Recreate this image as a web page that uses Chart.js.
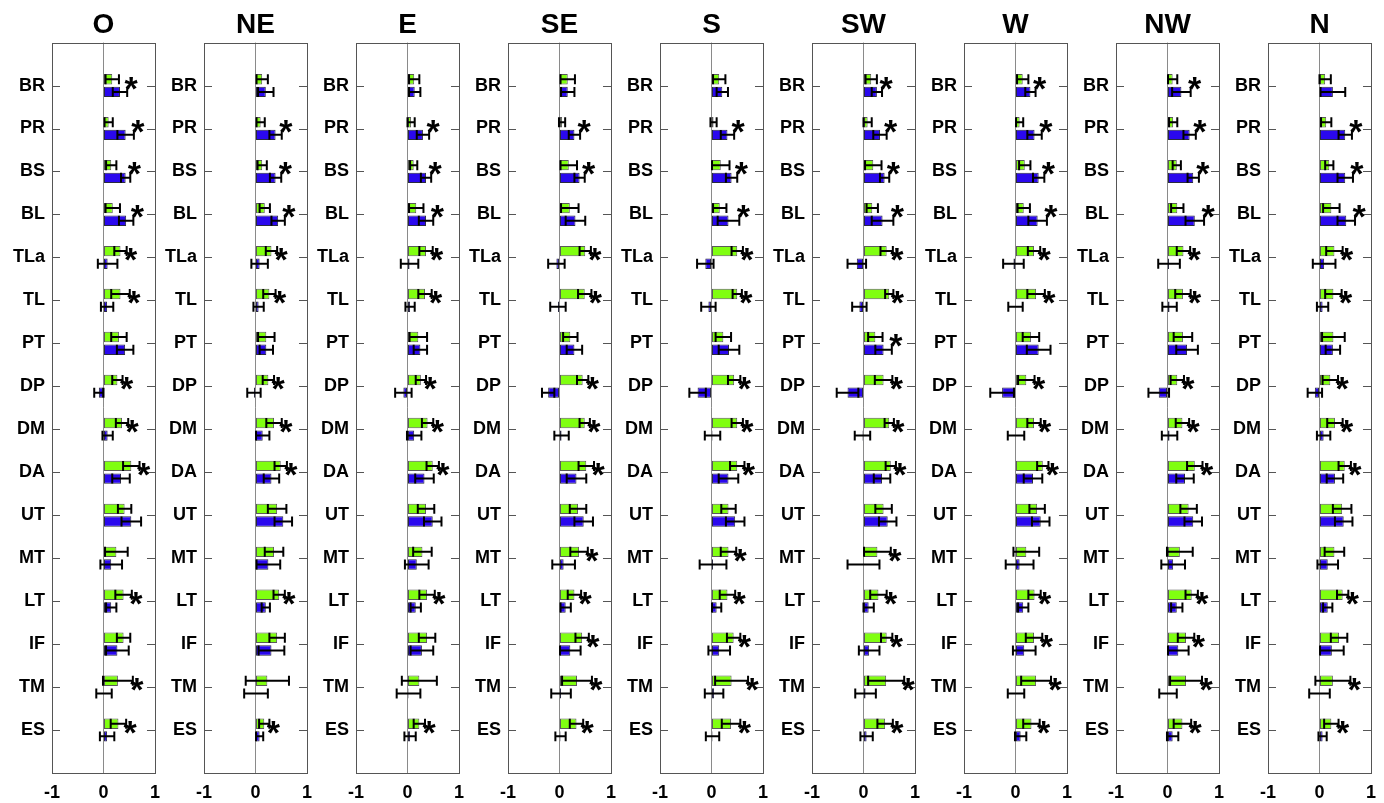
<!DOCTYPE html>
<html>
<head>
  <title>Panels</title>
  <script src="https://cdn.jsdelivr.net/npm/chart.js"></script>
  <style>
    body { margin: 0; background: #fff; }
    #wrap { position: relative; width: 1384px; height: 803px; overflow: hidden; }
    #wrap canvas { position: absolute; top: 0; }
  </style>
</head>
<body>
  <div id="wrap"></div>
  <script>
    const panels = ['O', 'NE', 'E', 'SE', 'S', 'SW', 'W', 'NW', 'N'];
    const categories = ['BR', 'PR', 'BS', 'BL', 'TLa', 'TL', 'PT', 'DP', 'DM', 'DA', 'UT', 'MT', 'LT', 'IF', 'TM', 'ES'];
    const xTicks = [-1, 0, 1];

    // green bars (upper bar of each pair), one row per panel
    const greenMean = [
      [0.17, 0.10, 0.15, 0.18, 0.33, 0.33, 0.30, 0.27, 0.36, 0.54, 0.41, 0.25, 0.39, 0.39, 0.28, 0.29],
      [0.13, 0.10, 0.13, 0.18, 0.31, 0.27, 0.21, 0.25, 0.36, 0.49, 0.42, 0.36, 0.46, 0.42, 0.23, 0.17],
      [0.13, 0.07, 0.12, 0.17, 0.36, 0.34, 0.21, 0.26, 0.39, 0.49, 0.36, 0.29, 0.38, 0.38, 0.23, 0.23],
      [0.16, 0.05, 0.18, 0.20, 0.50, 0.49, 0.21, 0.45, 0.49, 0.52, 0.36, 0.38, 0.29, 0.44, 0.34, 0.33],
      [0.15, 0.04, 0.18, 0.16, 0.50, 0.50, 0.23, 0.44, 0.50, 0.50, 0.33, 0.33, 0.31, 0.43, 0.39, 0.38],
      [0.15, 0.08, 0.19, 0.17, 0.45, 0.50, 0.23, 0.39, 0.50, 0.53, 0.39, 0.27, 0.29, 0.45, 0.44, 0.42],
      [0.14, 0.08, 0.18, 0.16, 0.36, 0.40, 0.30, 0.21, 0.36, 0.53, 0.42, 0.21, 0.37, 0.36, 0.40, 0.31],
      [0.10, 0.11, 0.18, 0.19, 0.31, 0.30, 0.30, 0.19, 0.29, 0.53, 0.41, 0.24, 0.47, 0.36, 0.36, 0.29],
      [0.11, 0.13, 0.19, 0.23, 0.29, 0.27, 0.27, 0.21, 0.30, 0.49, 0.44, 0.29, 0.45, 0.38, 0.26, 0.23]
    ];
    const greenErr = [
      [0.13, 0.08, 0.10, 0.14, 0.12, 0.18, 0.15, 0.10, 0.12, 0.16, 0.13, 0.22, 0.16, 0.13, 0.29, 0.15],
      [0.11, 0.08, 0.09, 0.10, 0.11, 0.12, 0.16, 0.11, 0.15, 0.12, 0.18, 0.18, 0.11, 0.15, 0.42, 0.10],
      [0.10, 0.07, 0.07, 0.14, 0.13, 0.13, 0.17, 0.10, 0.11, 0.12, 0.16, 0.18, 0.15, 0.16, 0.34, 0.11],
      [0.14, 0.06, 0.16, 0.17, 0.11, 0.13, 0.14, 0.11, 0.10, 0.15, 0.16, 0.17, 0.13, 0.13, 0.29, 0.13],
      [0.12, 0.06, 0.17, 0.13, 0.11, 0.09, 0.15, 0.12, 0.11, 0.14, 0.14, 0.15, 0.15, 0.13, 0.32, 0.18],
      [0.11, 0.08, 0.16, 0.11, 0.12, 0.08, 0.14, 0.17, 0.09, 0.10, 0.16, 0.26, 0.16, 0.11, 0.35, 0.15],
      [0.11, 0.07, 0.11, 0.12, 0.12, 0.17, 0.16, 0.16, 0.13, 0.11, 0.15, 0.25, 0.12, 0.16, 0.29, 0.16],
      [0.09, 0.08, 0.08, 0.12, 0.13, 0.15, 0.18, 0.13, 0.13, 0.15, 0.16, 0.25, 0.12, 0.16, 0.31, 0.17],
      [0.11, 0.10, 0.08, 0.16, 0.16, 0.16, 0.22, 0.15, 0.15, 0.12, 0.18, 0.19, 0.11, 0.16, 0.34, 0.14]
    ];
    // blue bars (lower bar of each pair)
    const blueMean = [
      [0.32, 0.43, 0.43, 0.44, 0.08, 0.07, 0.42, -0.09, 0.08, 0.34, 0.54, 0.15, 0.15, 0.27, 0.01, 0.07],
      [0.20, 0.39, 0.39, 0.44, 0.08, 0.06, 0.21, -0.03, 0.14, 0.31, 0.54, 0.25, 0.20, 0.31, 0.01, 0.08],
      [0.14, 0.30, 0.36, 0.36, 0.04, 0.05, 0.25, -0.08, 0.13, 0.33, 0.49, 0.18, 0.16, 0.28, 0.02, 0.05],
      [0.16, 0.29, 0.39, 0.31, -0.06, -0.03, 0.29, -0.22, 0.04, 0.33, 0.47, 0.08, 0.12, 0.21, 0.03, 0.02],
      [0.21, 0.31, 0.39, 0.33, -0.12, -0.06, 0.34, -0.27, 0.02, 0.33, 0.46, 0.03, 0.10, 0.15, 0.05, 0.02],
      [0.26, 0.32, 0.41, 0.37, -0.13, -0.08, 0.39, -0.31, -0.02, 0.36, 0.47, 0.00, 0.10, 0.11, 0.04, 0.06],
      [0.29, 0.37, 0.45, 0.43, -0.04, 0.00, 0.45, -0.26, 0.01, 0.34, 0.49, 0.08, 0.15, 0.17, 0.01, 0.10],
      [0.27, 0.43, 0.50, 0.53, 0.03, 0.04, 0.38, -0.17, 0.04, 0.34, 0.50, 0.11, 0.18, 0.21, 0.01, 0.10],
      [0.26, 0.50, 0.50, 0.52, 0.09, 0.06, 0.26, -0.09, 0.08, 0.30, 0.47, 0.16, 0.16, 0.24, 0.00, 0.06]
    ];
    const blueErr = [
      [0.14, 0.16, 0.09, 0.14, 0.19, 0.12, 0.16, 0.09, 0.10, 0.17, 0.19, 0.21, 0.10, 0.22, 0.15, 0.14],
      [0.15, 0.12, 0.11, 0.13, 0.16, 0.10, 0.13, 0.13, 0.13, 0.15, 0.17, 0.23, 0.08, 0.25, 0.23, 0.07],
      [0.11, 0.12, 0.10, 0.14, 0.17, 0.09, 0.13, 0.16, 0.14, 0.18, 0.17, 0.23, 0.10, 0.22, 0.23, 0.11],
      [0.13, 0.11, 0.10, 0.19, 0.16, 0.15, 0.15, 0.12, 0.14, 0.19, 0.18, 0.22, 0.10, 0.20, 0.19, 0.10],
      [0.11, 0.13, 0.11, 0.21, 0.16, 0.14, 0.20, 0.16, 0.15, 0.19, 0.18, 0.26, 0.09, 0.21, 0.18, 0.13],
      [0.10, 0.13, 0.09, 0.21, 0.18, 0.14, 0.16, 0.21, 0.15, 0.16, 0.17, 0.31, 0.10, 0.20, 0.20, 0.12],
      [0.10, 0.14, 0.11, 0.18, 0.20, 0.14, 0.23, 0.23, 0.16, 0.18, 0.17, 0.27, 0.10, 0.22, 0.16, 0.11],
      [0.18, 0.12, 0.11, 0.18, 0.21, 0.14, 0.21, 0.20, 0.15, 0.17, 0.17, 0.23, 0.11, 0.20, 0.17, 0.11],
      [0.24, 0.13, 0.15, 0.17, 0.22, 0.11, 0.14, 0.14, 0.13, 0.16, 0.17, 0.20, 0.09, 0.23, 0.20, 0.08]
    ];
    // 1 = significance asterisk next to the pair
    const stars = [
      [1, 1, 1, 1, 1, 1, 0, 1, 1, 1, 0, 0, 1, 0, 1, 1],
      [0, 1, 1, 1, 1, 1, 0, 1, 1, 1, 0, 0, 1, 0, 0, 1],
      [0, 1, 1, 1, 1, 1, 0, 1, 1, 1, 0, 0, 1, 0, 0, 1],
      [0, 1, 1, 0, 1, 1, 0, 1, 1, 1, 0, 1, 1, 1, 1, 1],
      [0, 1, 1, 1, 1, 1, 0, 1, 1, 1, 0, 1, 1, 1, 1, 1],
      [1, 1, 1, 1, 1, 1, 1, 1, 1, 1, 0, 1, 1, 1, 1, 1],
      [1, 1, 1, 1, 1, 1, 0, 1, 1, 1, 0, 0, 1, 1, 1, 1],
      [1, 1, 1, 1, 1, 1, 0, 1, 1, 1, 0, 0, 1, 1, 1, 1],
      [0, 1, 1, 1, 1, 1, 0, 1, 1, 1, 0, 0, 1, 0, 1, 1]
    ];

    const font = 'Arial, "Liberation Sans", sans-serif';
    const wrap = document.getElementById('wrap');

    // one empty slot above and below the categories, like the original axis range
    const pad = arr => [null, ...arr, null];
    const labels = ['', ...categories, ''];

    // box around the plot and the short inward ticks on both sides
    const framePlugin = {
      id: 'frame',
      afterDatasetsDraw(chart) {
        const { ctx, chartArea: a } = chart;
        const ys = chart.scales.y;
        ctx.save();
        ctx.strokeStyle = '#555';
        ctx.lineWidth = 1;
        ctx.strokeRect(Math.round(a.left) + 0.5, Math.round(a.top) + 0.5,
          Math.round(a.right - a.left), Math.round(a.bottom - a.top));
        ctx.beginPath();
        categories.forEach((c, i) => {
          const y = Math.round(ys.getPixelForValue(i + 1)) + 0.5;
          ctx.moveTo(a.left, y); ctx.lineTo(a.left + 8, y);
          ctx.moveTo(a.right - 8, y); ctx.lineTo(a.right, y);
        });
        ctx.stroke();
        ctx.restore();
      }
    };

    const errorBars = {
      id: 'errorBars',
      afterDatasetsDraw(chart) {
        const ctx = chart.ctx, xs = chart.scales.x;
        ctx.save();
        ctx.strokeStyle = '#000';
        ctx.lineWidth = 2;
        chart.data.datasets.forEach((ds, d) => {
          const meta = chart.getDatasetMeta(d);
          meta.data.forEach((bar, k) => {
            const m = ds.data[k], e = ds.errors[k];
            if (m === null || e === null) return;
            const lo = xs.getPixelForValue(m - e), hi = xs.getPixelForValue(m + e);
            const h = bar.height * 0.48;
            ctx.beginPath();
            ctx.moveTo(lo, bar.y); ctx.lineTo(hi, bar.y);
            ctx.moveTo(lo, bar.y - h); ctx.lineTo(lo, bar.y + h);
            ctx.moveTo(hi, bar.y - h); ctx.lineTo(hi, bar.y + h);
            ctx.stroke();
          });
        });
        ctx.restore();
      }
    };

    const starPlugin = {
      id: 'stars',
      afterDatasetsDraw(chart, args, opts) {
        const ctx = chart.ctx, xs = chart.scales.x, ys = chart.scales.y;
        const ds = chart.data.datasets;
        ctx.save();
        ctx.font = 'bold 34px ' + font;
        ctx.fillStyle = '#000';
        ctx.textAlign = 'center';
        ctx.textBaseline = 'alphabetic';
        opts.flags.forEach((f, i) => {
          if (!f) return;
          const k = i + 1;
          const top = Math.max(ds[0].data[k] + ds[0].errors[k], ds[1].data[k] + ds[1].errors[k]);
          const x = xs.getPixelForValue(top) + 4;
          const y = ys.getPixelForValue(k);
          ctx.fillText('*', x, y + 14);
        });
        ctx.restore();
      }
    };

    panels.forEach((name, p) => {
      const canvas = document.createElement('canvas');
      canvas.width = 169;
      canvas.height = 803;
      canvas.style.left = (p * 152) + 'px';
      wrap.appendChild(canvas);

      new Chart(canvas.getContext('2d'), {
        type: 'bar',
        data: {
          labels: labels,
          datasets: [{
            data: pad(greenMean[p]),
            errors: pad(greenErr[p]),
            backgroundColor: '#80ff10',
            borderColor: '#5a5a5a',
            borderWidth: 1,
            borderSkipped: false,
            categoryPercentage: 0.59,
            barPercentage: 0.82
          }, {
            data: pad(blueMean[p]),
            errors: pad(blueErr[p]),
            backgroundColor: '#2a08ee',
            borderColor: '#2a2a40',
            borderWidth: 1,
            borderSkipped: false,
            categoryPercentage: 0.59,
            barPercentage: 0.82
          }]
        },
        options: {
          indexAxis: 'y',
          responsive: false,
          animation: false,
          layout: { padding: { left: 0, right: 4, top: 0, bottom: 0 } },
          plugins: {
            legend: { display: false },
            tooltip: { enabled: false },
            title: {
              display: true,
              text: name,
              fullSize: false,
              color: '#000',
              font: { family: font, size: 28, weight: 'bold' },
              padding: { top: 8, bottom: 1 }
            },
            stars: { flags: stars[p] }
          },
          scales: {
            x: {
              min: -1,
              max: 1,
              afterBuildTicks: s => { s.ticks = xTicks.map(v => ({ value: v })); },
              ticks: { color: '#000', font: { family: font, size: 18, weight: 'bold' }, padding: 9, maxRotation: 0 },
              grid: {
                drawTicks: false,
                color: c => (c.tick && c.tick.value === 0) ? '#8a8a8a' : 'rgba(0,0,0,0)'
              },
              border: { display: false },
              afterFit: s => { s.height = 30; }
            },
            y: {
              offset: false,
              ticks: { color: '#000', font: { family: font, size: 18, weight: 'bold' }, padding: 7, autoSkip: false },
              grid: { display: false, drawTicks: false },
              border: { display: false },
              afterFit: s => { s.width = 52; }
            }
          }
        },
        plugins: [framePlugin, errorBars, starPlugin]
      });
    });
  </script>
</body>
</html>
